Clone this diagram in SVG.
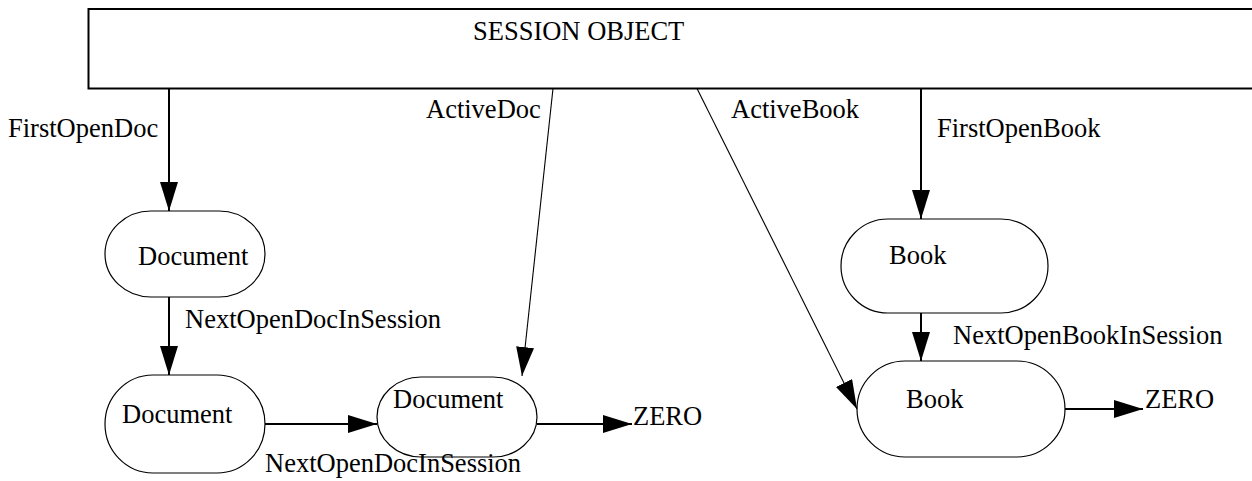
<svg xmlns="http://www.w3.org/2000/svg" width="1252" height="481" viewBox="0 0 1252 481">
<style>
text{font-family:"Liberation Serif","Times New Roman",serif;font-size:26.5px;fill:#000}
.node{fill:#fff;stroke:#000;stroke-width:1.2}
.thick{fill:none;stroke:#000;stroke-width:2}
.thin{fill:none;stroke:#000;stroke-width:1.1}
</style>
<defs>
<marker id="ah" markerUnits="userSpaceOnUse" markerWidth="29" markerHeight="18" refX="29" refY="9" orient="auto">
<path d="M0,0 L29,9 L0,18 z" fill="#000"/>
</marker>
</defs>
<g id="session">
<rect x="88.5" y="9" width="1175" height="79.5" fill="#fff" stroke="#000" stroke-width="2"/>
<text x="473" y="40">SESSION OBJECT</text>
</g>
<g id="doc1">
<rect class="node" x="105" y="211" width="160" height="86" rx="46" ry="43"/>
<text x="138" y="265">Document</text>
</g>
<g id="doc2">
<rect class="node" x="105" y="375" width="160" height="98" rx="48" ry="49"/>
<text x="122" y="423">Document</text>
</g>
<g id="doc3">
<rect class="node" x="377" y="377" width="160" height="80" rx="44" ry="40"/>
<text x="393" y="408">Document</text>
</g>
<g id="book1">
<rect class="node" x="841" y="219" width="207" height="94" rx="47" ry="47"/>
<text x="889" y="264">Book</text>
</g>
<g id="book2">
<rect class="node" x="857" y="361" width="208" height="96" rx="48" ry="48"/>
<text x="906" y="408">Book</text>
</g>
<g id="zero1"><text x="633" y="425">ZERO</text></g>
<g id="zero2"><text x="1145" y="408">ZERO</text></g>
<g id="connectors">
<line class="thick" x1="169" y1="88.5" x2="169" y2="211" marker-end="url(#ah)"/>
<text x="8" y="137">FirstOpenDoc</text>
<line class="thin" x1="553" y1="88.5" x2="522" y2="376" marker-end="url(#ah)"/>
<text x="426" y="118">ActiveDoc</text>
<line class="thin" x1="697" y1="88.5" x2="857" y2="409" marker-end="url(#ah)"/>
<text x="731" y="118">ActiveBook</text>
<line class="thick" x1="921" y1="88.5" x2="921" y2="219" marker-end="url(#ah)"/>
<text x="937" y="137">FirstOpenBook</text>
<line class="thick" x1="169" y1="297" x2="169" y2="375" marker-end="url(#ah)"/>
<text x="185" y="328">NextOpenDocInSession</text>
<line class="thick" x1="265" y1="424" x2="377" y2="424" marker-end="url(#ah)"/>
<text x="265" y="472">NextOpenDocInSession</text>
<line class="thick" x1="537" y1="424" x2="632" y2="424" marker-end="url(#ah)"/>
<line class="thick" x1="921" y1="313" x2="921" y2="361" marker-end="url(#ah)"/>
<text x="953" y="344">NextOpenBookInSession</text>
<line class="thick" x1="1065" y1="409" x2="1143" y2="409" marker-end="url(#ah)"/>
</g>
</svg>
